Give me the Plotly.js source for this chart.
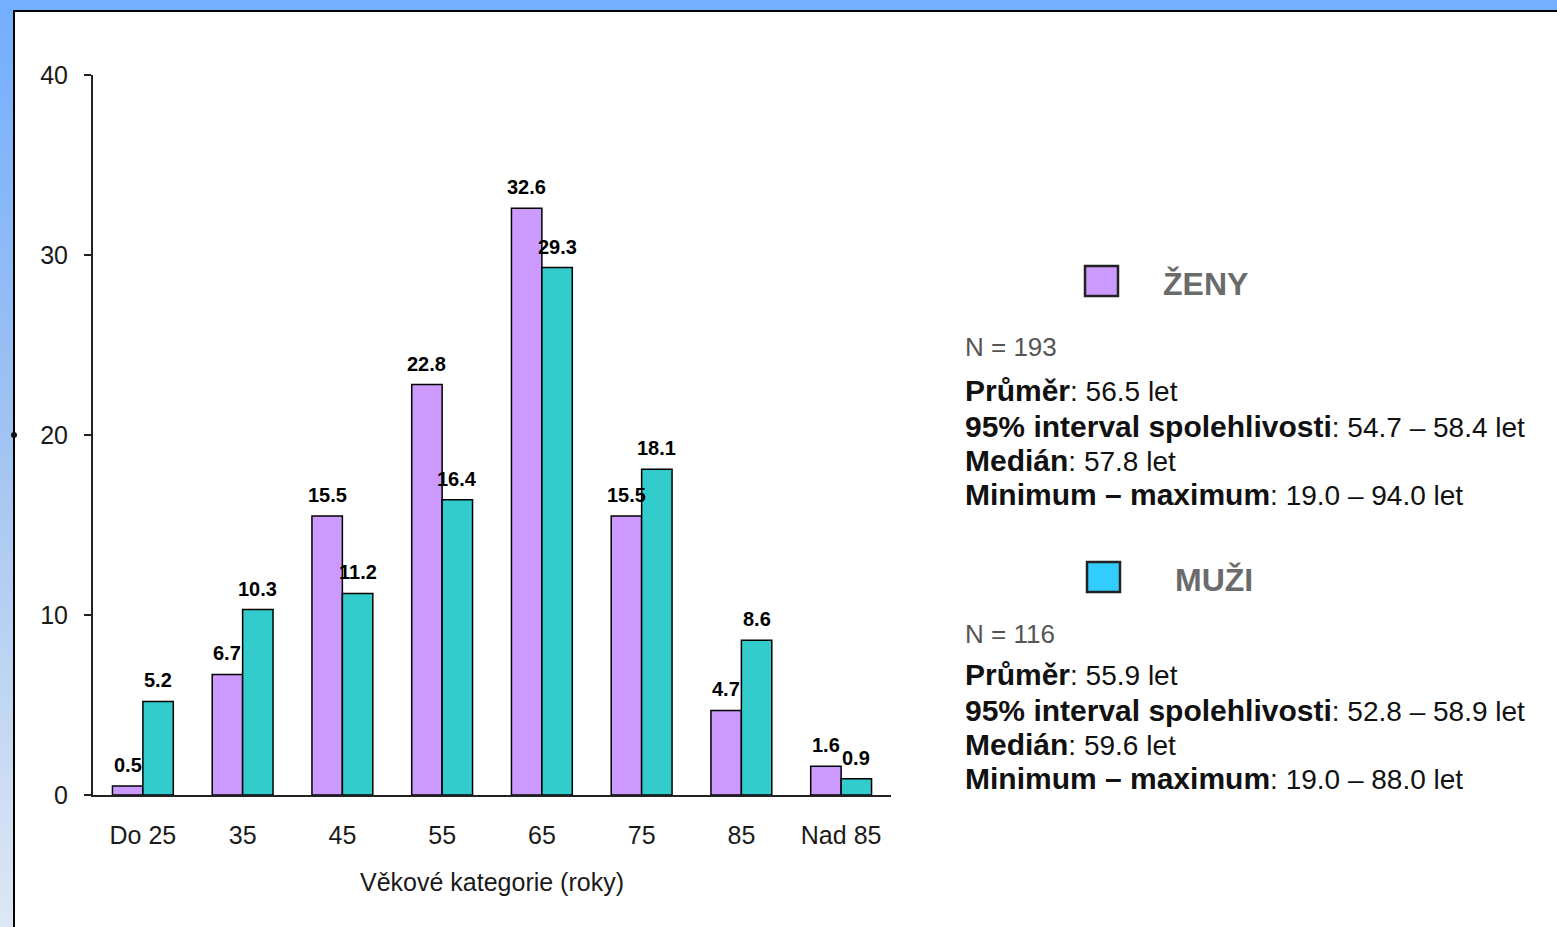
<!DOCTYPE html>
<html>
<head>
<meta charset="utf-8">
<script src="https://cdn.plot.ly/plotly-3.0.1.min.js"></script>
<style>
  html, body { margin: 0; padding: 0; width: 1557px; height: 927px; overflow: hidden; }
  body { background: linear-gradient(to bottom, #73aeff 0%, #9fc2f2 45%, #dde7f4 100%); position: relative; }
  #topbar { position: absolute; left: 0; top: 0; width: 1557px; height: 10px; background: #73aeff; }
  #frame { position: absolute; left: 13px; top: 10px; width: 1544px; height: 917px; background: #fff;
           border-top: 2px solid #000; border-left: 2px solid #000; box-sizing: border-box; }
  #dot { position: absolute; left: 11px; top: 432px; width: 6px; height: 6px; border-radius: 3px; background: #111; }
  #chart { position: absolute; left: 15px; top: 12px; width: 1542px; height: 915px; }
</style>
</head>
<body>
<div id="topbar"></div>
<div id="frame"></div>
<div id="dot"></div>
<div id="chart"></div>
<script>
// ---- data ----
const categories = ["Do 25", "35", "45", "55", "65", "75", "85", "Nad 85"];
const zeny = [0.5, 6.7, 15.5, 22.8, 32.6, 15.5, 4.7, 1.6];
const muzi = [5.2, 10.3, 11.2, 16.4, 29.3, 18.1, 8.6, 0.9];
const yTicks = [0, 10, 20, 30, 40];
const xTitle = "Věkové kategorie (roky)";
const statLabels = ["Průměr", "95% interval spolehlivosti", "Medián", "Minimum – maximum"];
const zenyN = "N = 193";
const zenyVals = ["56.5 let", "54.7 – 58.4 let", "57.8 let", "19.0 – 94.0 let"];
const muziN = "N = 116";
const muziVals = ["55.9 let", "52.8 – 58.9 let", "59.6 let", "19.0 – 88.0 let"];

// ---- geometry (div pixel -> paper) ----
const W = 1542, H = 915;
const M = { l: 78, r: 666, t: 63, b: 132 };
const PW = W - M.l - M.r, PH = H - M.t - M.b;
const OX = 15, OY = 12; // div offset on page
const px = x => (x - OX - M.l) / PW;
const py = y => 1 - (y - OY - M.t) / PH;

const FONT = "Liberation Sans, Arial, sans-serif";
const PURPLE = "#cc99ff", TEAL = "#33cccc", CYAN = "#33ccff";
const BARGAP = 0.39;

const traces = [
  { type: "bar", name: "ŽENY", x: categories, y: zeny, marker: { color: PURPLE, line: { color: "#000", width: 1.5 } } },
  { type: "bar", name: "MUŽI", x: categories, y: muzi, marker: { color: TEAL, line: { color: "#000", width: 1.5 } } }
];

const annotations = [];
// value labels above bars, anchored on data coordinates (category index)
const halfBar = PW / categories.length * (1 - BARGAP) / 4;
[zeny, muzi].forEach((series, s) => {
  series.forEach((v, i) => {
    annotations.push({ xref: "x", yref: "y", x: i, y: v, xshift: (s === 0 ? -1 : 1) * halfBar, yshift: 8,
      yanchor: "bottom", xanchor: "center", showarrow: false, text: "<b>" + v.toFixed(1) + "</b>",
      font: { family: FONT, size: 20, color: "#000" } });
  });
});

function addBlock(titleText, titleX, titleY, nText, vals, ys) {
  annotations.push({ xref: "paper", yref: "paper", x: px(titleX), y: py(titleY), xanchor: "left", yanchor: "middle",
    text: "<b>" + titleText + "</b>", showarrow: false, font: { family: FONT, size: 32, color: "#6b6b6b" } });
  annotations.push({ xref: "paper", yref: "paper", x: px(963), y: py(ys[0]), xanchor: "left", yanchor: "middle",
    text: nText, showarrow: false, font: { family: FONT, size: 26, color: "#555" } });
  statLabels.forEach((lab, i) => {
    annotations.push({ xref: "paper", yref: "paper", x: px(963), y: py(ys[i + 1]), xanchor: "left", yanchor: "middle",
      text: '<span style="font-size:30px"><b>' + lab + '</b></span>: ' + vals[i], showarrow: false,
      font: { family: FONT, size: 28, color: "#111" } });
  });
}
addBlock("ŽENY", 1161, 284, zenyN, zenyVals, [347, 390, 426, 460, 494]);
addBlock("MUŽI", 1173, 580, muziN, muziVals, [634, 674, 710, 744, 778]);

const shapes = [
  { type: "rect", xref: "paper", yref: "paper", x0: px(1085), x1: px(1118), y0: py(296), y1: py(266),
    fillcolor: PURPLE, line: { color: "#222", width: 2.5 } },
  { type: "rect", xref: "paper", yref: "paper", x0: px(1087), x1: px(1120), y0: py(592), y1: py(562),
    fillcolor: CYAN, line: { color: "#222", width: 2.5 } }
];

const layout = {
  width: W, height: H, margin: M,
  paper_bgcolor: "rgba(0,0,0,0)", plot_bgcolor: "#fff",
  showlegend: false, barmode: "group", bargap: BARGAP, bargroupgap: 0,
  font: { family: FONT, size: 25, color: "#1a1a1a" },
  xaxis: { type: "category", range: [-0.5, categories.length - 0.5], tickangle: 0,
    showline: true, linecolor: "#222", linewidth: 2, ticks: "", showgrid: false, zeroline: false,
    tickfont: { size: 25 }, ticklabelstandoff: 17,
    title: { text: xTitle, font: { size: 25 }, standoff: 25 } },
  yaxis: { range: [0, 40], tickvals: yTicks, showline: true, linecolor: "#222", linewidth: 2,
    ticks: "outside", ticklen: 7, tickwidth: 2, tickcolor: "#222", showgrid: false, zeroline: false,
    tickfont: { size: 25 }, ticklabelstandoff: 11 },
  annotations: annotations, shapes: shapes
};

Plotly.newPlot("chart", traces, layout, { displayModeBar: false, staticPlot: true });
</script>
</body>
</html>
